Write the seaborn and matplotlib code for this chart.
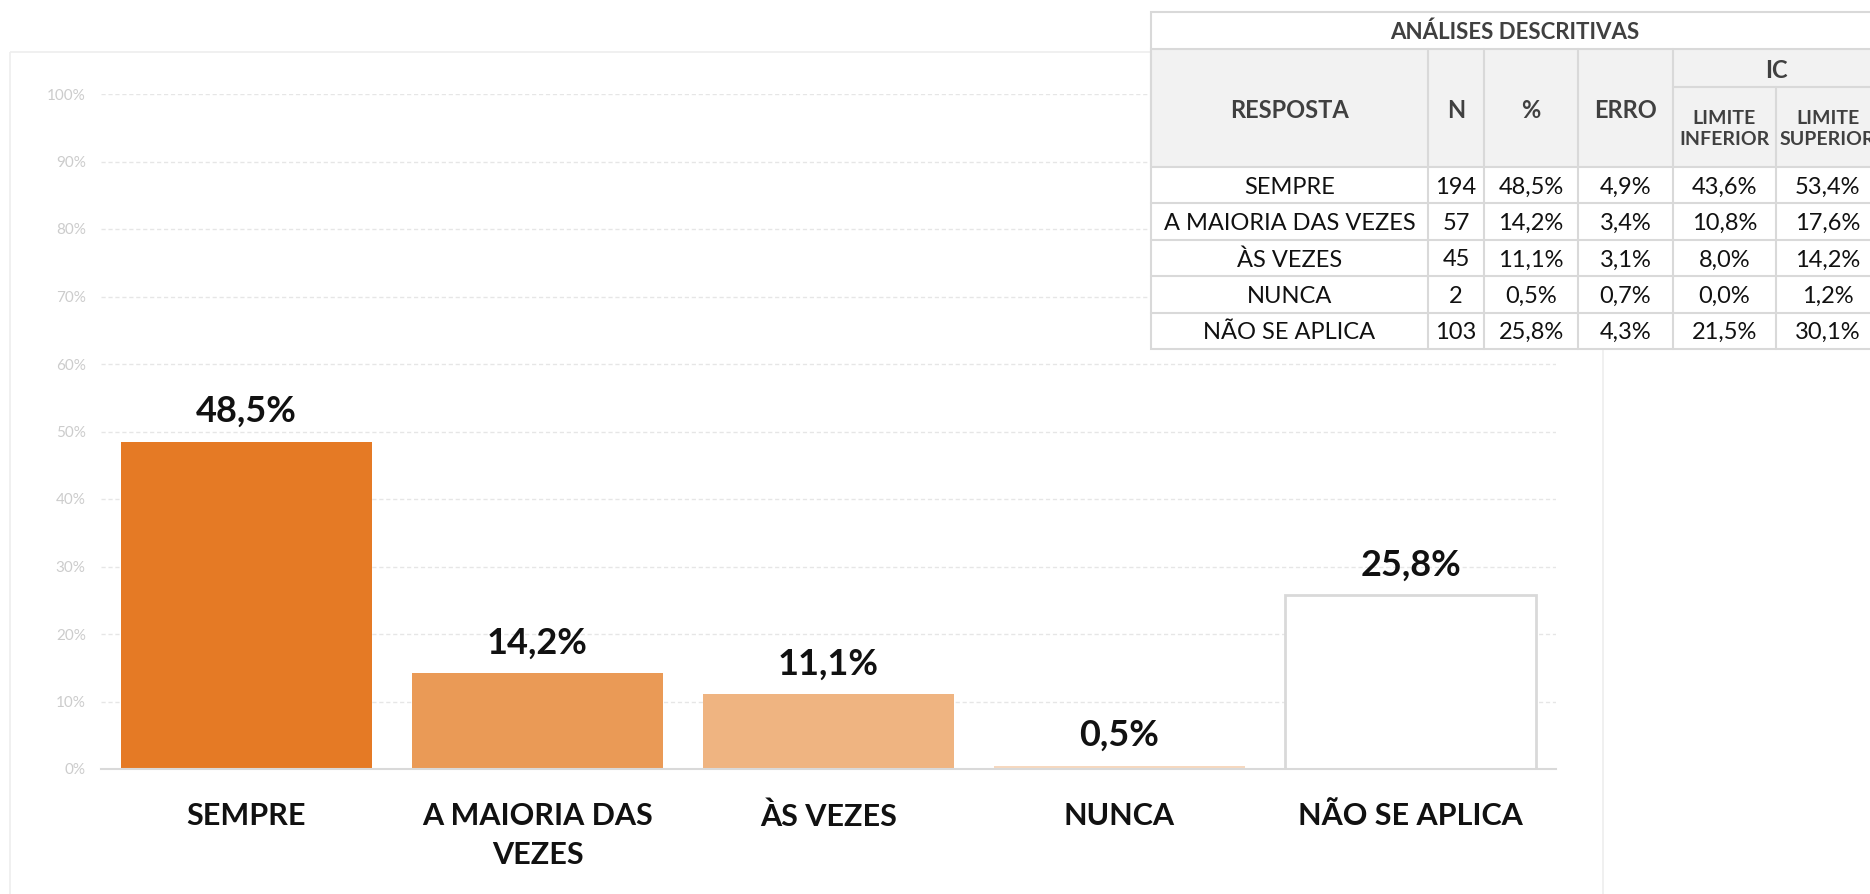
import matplotlib
matplotlib.use("Agg")
import matplotlib.pyplot as plt
from matplotlib.patches import Rectangle
import seaborn as sns

# chart data
CATEGORIES = ["SEMPRE", "A MAIORIA DAS\nVEZES", "ÀS VEZES", "NUNCA", "NÃO SE APLICA"]
VALUES = [0.485, 0.142, 0.111, 0.005, 0.258]
BAR_COLORS = ["#E57A25", "#EA9A56", "#EFB481", "#F6D8BF", "#FFFFFF"]
Y_TICKS = [0.0, 0.1, 0.2, 0.3, 0.4, 0.5, 0.6, 0.7, 0.8, 0.9, 1.0]

# table data
TABLE_TITLE = "ANÁLISES DESCRITIVAS"
TABLE_ROWS = ["SEMPRE", "A MAIORIA DAS VEZES", "ÀS VEZES", "NUNCA", "NÃO SE APLICA"]
TABLE_N = [194, 57, 45, 2, 103]
TABLE_PCT = [48.5, 14.2, 11.1, 0.5, 25.8]
TABLE_ERRO = [4.9, 3.4, 3.1, 0.7, 4.3]
TABLE_LI = [43.6, 10.8, 8.0, 0.0, 21.5]
TABLE_LS = [53.4, 17.6, 14.2, 1.2, 30.1]


def pct(v):
    return f"{v:.1f}%".replace(".", ",")


sns.set_style("white")
plt.rcParams["font.family"] = ["Lato", "DejaVu Sans"]

W, H = 1870, 894
fig = plt.figure(figsize=(W / 100, H / 100), dpi=100)

# main plot area (pixel layout of the reference)
x0, x1, y_base, y_top = 101, 1556, 769, 94
ax = fig.add_axes([x0 / W, (H - y_base) / H, (x1 - x0) / W, (y_base - y_top) / H])

sns.barplot(x=list(range(len(VALUES))), y=VALUES, hue=list(range(len(VALUES))),
            palette=BAR_COLORS, legend=False, width=0.863, saturation=1, ax=ax,
            edgecolor="none", linewidth=0, zorder=3)
last = ax.patches[len(VALUES) - 1]
last.set_edgecolor("#d9d9d9")
last.set_linewidth(2)

ax.set_xlim(-0.5, len(VALUES) - 0.5)
ax.set_ylim(0, 1)
ax.set_yticks(Y_TICKS)
ax.set_yticklabels([f"{int(round(t * 100))}%" for t in Y_TICKS])
ax.tick_params(axis="y", length=0, pad=11, labelsize=11, labelcolor="#cccccc")
ax.yaxis.grid(True, color="#e6e6e6", linestyle=(0, (3, 2)), linewidth=1)
ax.set_axisbelow(True)

ax.set_xticks([i - 0.5 for i in range(len(VALUES) + 1)])
ax.set_xticklabels([])
ax.tick_params(axis="x", which="major", length=8, width=1.5, color="#d9d9d9", direction="out")
ax.set_xticks(list(range(len(VALUES))), minor=True)
ax.set_xticklabels(CATEGORIES, minor=True, fontsize=22, fontweight="bold",
                   color="#111111", linespacing=1.45)
ax.tick_params(axis="x", which="minor", length=0, pad=24)
ax.set_xlabel("")
ax.set_ylabel("")

for s in ["top", "left", "right"]:
    ax.spines[s].set_visible(False)
ax.spines["bottom"].set_color("#d9d9d9")
ax.spines["bottom"].set_linewidth(1.5)
ax.spines["bottom"].set_zorder(4)

for i, v in enumerate(VALUES):
    ax.annotate(pct(v * 100), (i, v), xytext=(0, 14), textcoords="offset points",
                ha="center", va="baseline", fontsize=26, fontweight="bold", color="#111111")

# overlay in pixel coordinates for chart frame and table
ov = fig.add_axes([0, 0, 1, 1], zorder=5)
ov.set_xlim(0, W)
ov.set_ylim(H, 0)
ov.axis("off")
ov.patch.set_alpha(0)

ov.add_patch(Rectangle((10, 52), 1593, 860, fill=False, edgecolor="#eeeeee", linewidth=1.2))

cols = [1151, 1428, 1484, 1578, 1673, 1776, 1879]
t_top, title_bot, ic_split, head_bot, t_bot = 12, 49, 87, 167, 349
row_h = (t_bot - head_bot) / len(TABLE_ROWS)
line_c = "#d9d9d9"
head_c = "#404040"

ov.add_patch(Rectangle((cols[0], t_top), cols[-1] - cols[0], t_bot - t_top,
                       facecolor="white", edgecolor=line_c, linewidth=1.5))
ov.add_patch(Rectangle((cols[0], title_bot), cols[-1] - cols[0], head_bot - title_bot,
                       facecolor="#f2f2f2", edgecolor=line_c, linewidth=1.5))
ov.text((cols[0] + cols[-1]) / 2, (t_top + title_bot) / 2, TABLE_TITLE, ha="center",
        va="center_baseline", fontsize=16, fontweight="bold", color=head_c)

# header vertical separators
for c in cols[1:-1]:
    top = ic_split if c == cols[5] else title_bot
    ov.plot([c, c], [top, t_bot], color=line_c, lw=1.5)
ov.plot([cols[4], cols[-1]], [ic_split, ic_split], color=line_c, lw=1.5)
for r in range(1, len(TABLE_ROWS)):
    y = head_bot + r * row_h
    ov.plot([cols[0], cols[-1]], [y, y], color=line_c, lw=1.5)

mid_head = (title_bot + head_bot) / 2
for j, lab in enumerate(["RESPOSTA", "N", "%", "ERRO"]):
    ov.text((cols[j] + cols[j + 1]) / 2, mid_head, lab, ha="center", va="center_baseline",
            fontsize=17, fontweight="bold", color=head_c)
ov.text((cols[4] + cols[6]) / 2, (title_bot + ic_split) / 2, "IC", ha="center",
        va="center_baseline", fontsize=17, fontweight="bold", color=head_c)
for j, lab in [(4, "LIMITE\nINFERIOR"), (5, "LIMITE\nSUPERIOR")]:
    ov.text((cols[j] + cols[j + 1]) / 2, (ic_split + head_bot) / 2 + 2, lab, ha="center",
            va="center", fontsize=14, fontweight="bold", color=head_c, linespacing=1.25)

for i, name in enumerate(TABLE_ROWS):
    yc = head_bot + (i + 0.5) * row_h
    cells = [name, str(TABLE_N[i]), pct(TABLE_PCT[i]), pct(TABLE_ERRO[i]),
             pct(TABLE_LI[i]), pct(TABLE_LS[i])]
    for j, txt in enumerate(cells):
        ov.text((cols[j] + cols[j + 1]) / 2, yc, txt, ha="center", va="center_baseline",
                fontsize=17, color="#111111")

fig.savefig("out.png", dpi=100)
